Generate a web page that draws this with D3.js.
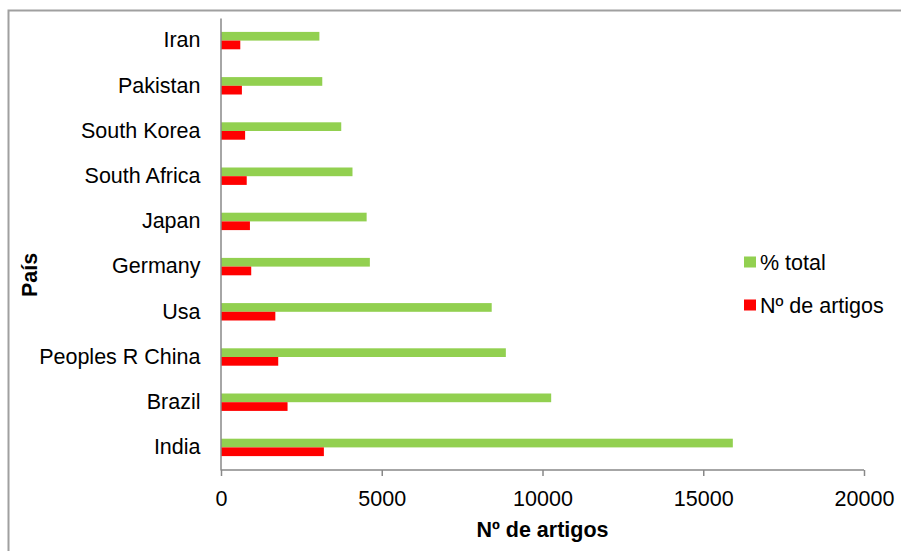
<!DOCTYPE html>
<html>
<head>
<meta charset="utf-8">
<script src="https://cdn.jsdelivr.net/npm/d3@7"></script>
<style>
  html, body { margin: 0; padding: 0; background: #fff; }
  svg { display: block; font-family: "Liberation Sans", Arial, sans-serif; }
</style>
</head>
<body>
<svg id="chart" width="901" height="551"></svg>
<script>
// Countries, top to bottom
const countries = ["Iran", "Pakistan", "South Korea", "South Africa", "Japan",
                   "Germany", "Usa", "Peoples R China", "Brazil", "India"];
// Series values per country
const percentTotal = [3060, 3150, 3740, 4090, 4530, 4630, 8420, 8860, 10270, 15920];
const articleCount = [600, 650, 750, 800, 900, 940, 1690, 1780, 2070, 3200];
// Series names and colours (legend order)
const seriesNames = ["% total", "Nº de artigos"];
const seriesColors = ["#92D050", "#FF0000"];
// X axis ticks
const xTicks = [0, 5000, 10000, 15000, 20000];
const xTitle = "Nº de artigos";
const yTitle = "País";

const svg = d3.select("#chart");
const plot = { left: 221, right: 864, top: 18, bottom: 470 };
const axisColor = "#888888";
const fontSize = 21.5;

// Outer chart border
svg.append("rect")
  .attr("x", 8.5).attr("y", 10.5)
  .attr("width", 920).attr("height", 580)
  .attr("fill", "none")
  .attr("stroke", "#a0a0a0")
  .attr("stroke-width", 2);

const x = d3.scaleLinear().domain([0, 20000]).range([plot.left, plot.right]);
const y = d3.scaleBand().domain(countries)
  .range([plot.top, plot.bottom])
  .paddingInner(0.615).paddingOuter(0.3075);
const sub = d3.scaleBand().domain(seriesNames).range([0, y.bandwidth()]);

const rows = countries.map((c, i) => ({ country: c, values: [percentTotal[i], articleCount[i]] }));

// Bars
const groups = svg.append("g").selectAll("g").data(rows).join("g")
  .attr("transform", d => `translate(0,${y(d.country)})`);
groups.selectAll("rect")
  .data(d => d.values.map((v, k) => ({ name: seriesNames[k], value: v, color: seriesColors[k] })))
  .join("rect")
  .attr("x", x(0))
  .attr("y", d => sub(d.name))
  .attr("width", d => x(d.value) - x(0))
  .attr("height", sub.bandwidth())
  .attr("fill", d => d.color);

// X axis
const xAxis = svg.append("g")
  .attr("transform", `translate(0,${plot.bottom})`)
  .call(d3.axisBottom(x).tickValues(xTicks).tickFormat(d3.format("d")).tickSize(6).tickPadding(15));
xAxis.select(".domain").attr("stroke", axisColor).attr("stroke-width", 1.5)
  .attr("d", `M${plot.left},0H${plot.right}`);
xAxis.selectAll(".tick line").attr("stroke", axisColor).attr("stroke-width", 1.5);
xAxis.selectAll(".tick text")
  .attr("fill", "#000").attr("font-size", fontSize)
  .attr("font-family", "Liberation Sans, Arial, sans-serif");

// Y axis
const yAxis = svg.append("g")
  .attr("transform", `translate(${plot.left - 0.5},0)`)
  .call(d3.axisLeft(y).tickSize(0).tickPadding(20));
yAxis.select(".domain").attr("stroke", axisColor).attr("stroke-width", 1.5);
yAxis.selectAll(".tick text")
  .attr("fill", "#000").attr("font-size", fontSize)
  .attr("font-family", "Liberation Sans, Arial, sans-serif");

// Axis titles
svg.append("text")
  .attr("x", (plot.left + plot.right) / 2).attr("y", 537)
  .attr("text-anchor", "middle")
  .attr("font-size", fontSize).attr("font-weight", "bold")
  .text(xTitle);
svg.append("text")
  .attr("transform", "translate(37,275) rotate(-90)")
  .attr("text-anchor", "middle")
  .attr("font-size", fontSize).attr("font-weight", "bold")
  .text(yTitle);

// Legend
const legend = svg.append("g").attr("transform", "translate(744,0)");
const legendY = [262, 305];
seriesNames.forEach((name, k) => {
  legend.append("rect")
    .attr("x", 0).attr("y", legendY[k] - 5.5)
    .attr("width", 12).attr("height", 11)
    .attr("fill", seriesColors[k]);
  legend.append("text")
    .attr("x", 16).attr("y", legendY[k] + 7.5)
    .attr("font-size", fontSize)
    .text(name);
});
</script>
</body>
</html>
